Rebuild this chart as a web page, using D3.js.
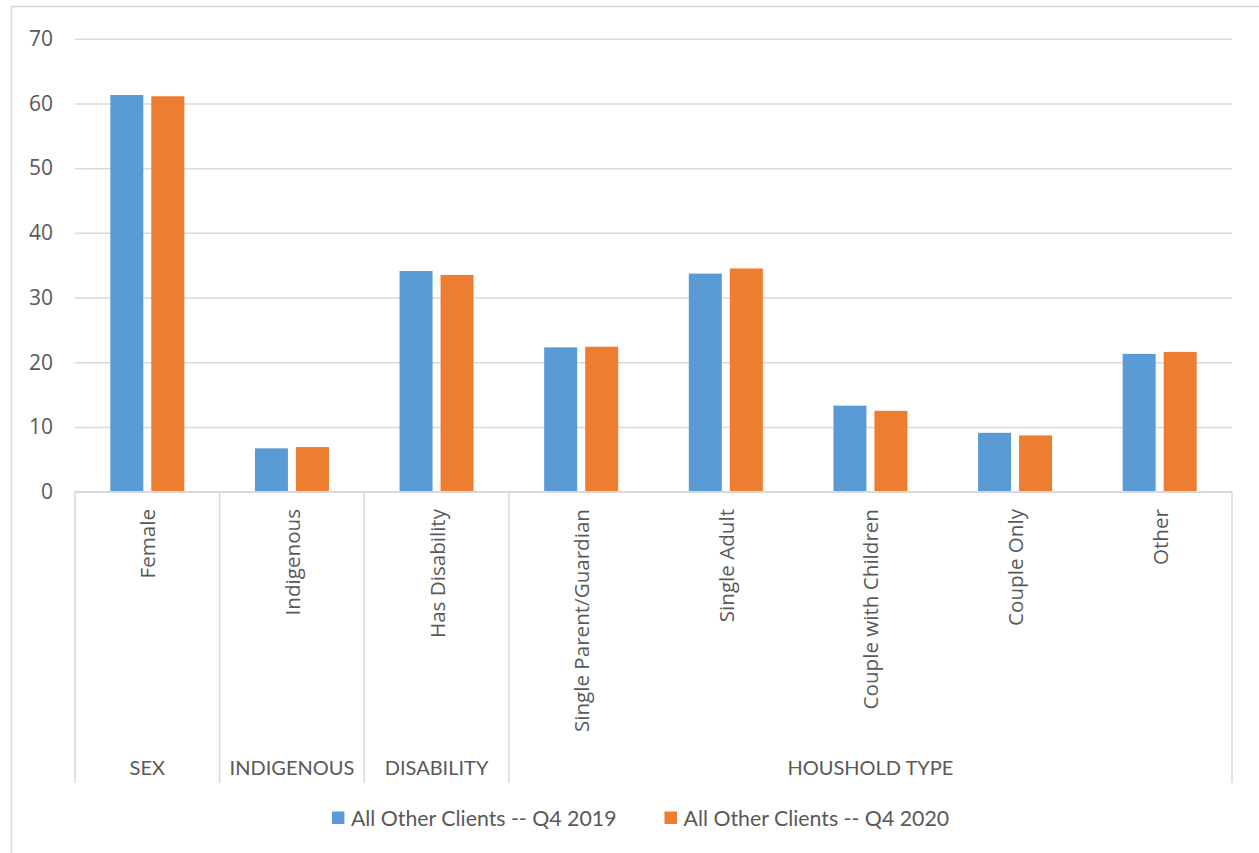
<!DOCTYPE html>
<html>
<head>
<meta charset="utf-8">
<script src="https://cdn.jsdelivr.net/npm/d3@7"></script>
<style>
  html, body { margin: 0; padding: 0; background: #ffffff; }
  svg { display: block; }
  .tick-label, .cat-label { font-family: "Open Sans", sans-serif; fill: #595959; }
  .group-label, .legend-label { font-family: Lato, "Liberation Sans", sans-serif; fill: #595959; }
</style>
</head>
<body>
<svg id="chart" width="1259" height="853"></svg>
<script>
// Client characteristics, percentage of clients
const groups = ["SEX", "INDIGENOUS", "DISABILITY", "HOUSHOLD TYPE"];
const categories = ["Female", "Indigenous", "Has Disability", "Single Parent/Guardian",
                    "Single Adult", "Couple with Children", "Couple Only", "Other"];
const categoryGroup = ["SEX", "INDIGENOUS", "DISABILITY", "HOUSHOLD TYPE",
                       "HOUSHOLD TYPE", "HOUSHOLD TYPE", "HOUSHOLD TYPE", "HOUSHOLD TYPE"];
const seriesNames = ["All Other Clients -- Q4 2019", "All Other Clients -- Q4 2020"];
const values2019 = [61.3, 6.7, 34.1, 22.3, 33.7, 13.3, 9.1, 21.3];
const values2020 = [61.1, 6.9, 33.5, 22.4, 34.5, 12.5, 8.7, 21.6];
const yTicks = [0, 10, 20, 30, 40, 50, 60, 70];
const colors = ["#5B9BD5", "#ED7D31"];

const svg = d3.select("#chart");
const gridColor = "#d9d9d9";

// outer chart frame
svg.append("rect")
  .attr("x", 11.5).attr("y", 6.5)
  .attr("width", 1400).attr("height", 1000)
  .attr("fill", "none").attr("stroke", gridColor).attr("stroke-width", 1.5);

const plot = { left: 75, right: 1232, top: 38.7, bottom: 491.7 };
const y = d3.scaleLinear().domain([0, 70]).range([plot.bottom, plot.top]);
const x = d3.scaleBand().domain(categories).range([plot.left, plot.right]).padding(0);
const xs = d3.scaleBand().domain(seriesNames).range([0, x.bandwidth()])
  .paddingInner(0.195).paddingOuter(0.861);

// horizontal gridlines and value labels
const yAxis = d3.axisLeft(y).tickValues(yTicks).tickSize(-(plot.right - plot.left)).tickPadding(22);
const yg = svg.append("g").attr("transform", `translate(${plot.left},0)`).call(yAxis);
yg.select(".domain").remove();
yg.selectAll(".tick line").attr("stroke", gridColor).attr("stroke-width", 1.5);
yg.selectAll(".tick text").attr("class", "tick-label").attr("font-size", 21)
  .attr("fill", "#595959");

// bars
const series = [values2019, values2020];
series.forEach((vals, si) => {
  svg.append("g").selectAll("rect").data(categories).join("rect")
    .attr("x", c => x(c) + xs(seriesNames[si]))
    .attr("width", xs.bandwidth())
    .attr("y", (c, i) => y(vals[i]))
    .attr("height", (c, i) => y(0) - y(vals[i]))
    .attr("fill", colors[si]);
});

// category axis baseline
svg.append("line")
  .attr("x1", plot.left).attr("x2", plot.right)
  .attr("y1", y(0)).attr("y2", y(0))
  .attr("stroke", gridColor).attr("stroke-width", 1.5);

// group separators on the category axis
const boxBottom = 783;
const groupSpans = groups.map(g => {
  const members = categories.filter((c, i) => categoryGroup[i] === g);
  return { name: g, x0: x(members[0]), x1: x(members[members.length - 1]) + x.bandwidth() };
});
const edges = [plot.left].concat(groupSpans.map(s => s.x1));
svg.append("g").selectAll("line").data(edges).join("line")
  .attr("x1", d => d).attr("x2", d => d)
  .attr("y1", y(0)).attr("y2", boxBottom)
  .attr("stroke", gridColor).attr("stroke-width", 1.5);

// rotated category labels
svg.append("g").selectAll("text").data(categories).join("text")
  .attr("class", "cat-label")
  .attr("font-size", 20.6)
  .attr("text-anchor", "end")
  .attr("dominant-baseline", "central")
  .attr("transform", c => `translate(${x(c) + x.bandwidth() / 2},509) rotate(-90)`)
  .text(c => c);

// group labels
svg.append("g").selectAll("text").data(groupSpans).join("text")
  .attr("class", "group-label")
  .attr("font-size", 20)
  .attr("text-anchor", "middle")
  .attr("x", d => (d.x0 + d.x1) / 2)
  .attr("y", 775)
  .text(d => d.name);

// legend
const legend = svg.append("g");
const items = seriesNames.map((name, i) => {
  const g = legend.append("g");
  g.append("rect").attr("width", 12.5).attr("height", 12.5).attr("y", -6.5).attr("fill", colors[i]);
  g.append("text").attr("class", "legend-label").attr("font-size", 21.3)
    .attr("x", 19).attr("dominant-baseline", "central").text(name);
  return g;
});
let widths = items.map(g => g.node().getBBox().width);
const itemGap = 48;
const total = d3.sum(widths) + itemGap * (items.length - 1);
let cx = 640.5 - total / 2;
items.forEach((g, i) => {
  g.attr("transform", `translate(${cx},818)`);
  cx += widths[i] + itemGap;
});
</script>
</body>
</html>
